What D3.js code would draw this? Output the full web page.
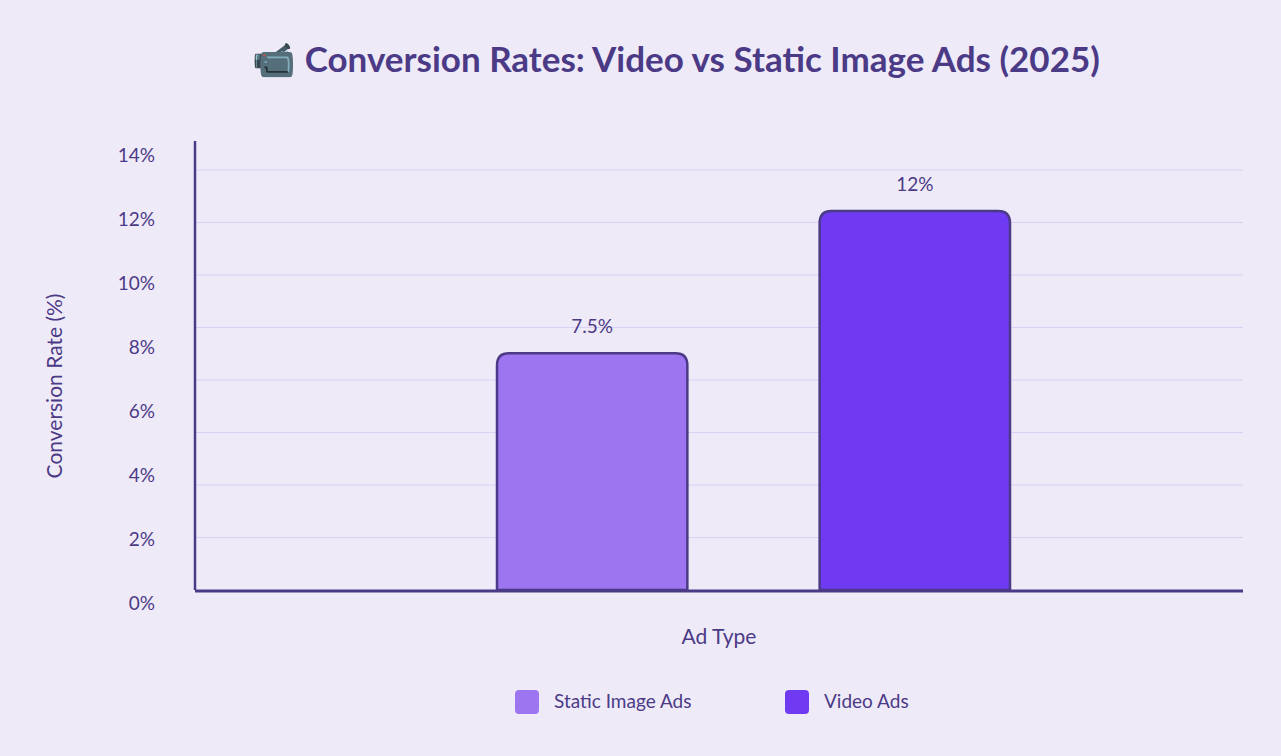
<!DOCTYPE html><html><head><meta charset="utf-8">
<script src="https://cdn.jsdelivr.net/npm/d3@7"></script>
<style>body{margin:0;background:#efeaf8;font-family:Lato,"Noto Sans",sans-serif}</style></head><body>
<svg id="c" width="1281" height="756"></svg>
<script>
const categories=["Static Image Ads","Video Ads"];
const values=[7.5,12];
const valueLabels=["7.5%","12%"];
const colors=["#9d75f0","#6f3af2"];
const tickLabels=[0,2,4,6,8,10,12,14];
const svg=d3.select("#c");
svg.append("rect").attr("width",1281).attr("height",756).attr("fill","#efeaf8");
const ink="#4b3a86";
svg.append("text").attr("x",676).attr("y",72).attr("text-anchor","middle").attr("font-size",35).attr("font-weight",700).attr("fill",ink).text("📹 Conversion Rates: Video vs Static Image Ads (2025)");
const L=195,R=1243,B=590;
const y=d3.scaleLinear().domain([0,13.3]).range([B,170]);
const yl=d3.scaleLinear().domain([0,14]).range([603,155]);
const x=d3.scaleBand().domain(["", ...categories,"  "]).range([L,R]).paddingInner(0.286).paddingOuter(0.0);
const grid=d3.range(1,9).map(i=>y.invert(B-i*52.5));
svg.selectAll(".g").data(grid).enter().append("line").attr("x1",L).attr("x2",R).attr("y1",d=>y(d)).attr("y2",d=>y(d)).attr("stroke","#d9d0f5").attr("stroke-width",1);
svg.selectAll(".t").data(tickLabels).enter().append("text").attr("x",155).attr("y",d=>yl(d)+7).attr("text-anchor","end").attr("font-size",19).attr("fill",ink).text(d=>d+"%");
const bx=d3.scaleBand().domain(categories).range([497,1010]).paddingInner(0.41);
const r=12;
categories.forEach((c,i)=>{
 const x0=bx(c),w=bx.bandwidth(),yt=y(values[i]);
 svg.append("path").attr("d",`M${x0},${B}V${yt+r}Q${x0},${yt} ${x0+r},${yt}H${x0+w-r}Q${x0+w},${yt} ${x0+w},${yt+r}V${B}Z`).attr("fill",colors[i]).attr("stroke",ink).attr("stroke-width",2.5);
 svg.append("text").attr("x",x0+w/2).attr("y",yt-20).attr("text-anchor","middle").attr("font-size",19).attr("fill",ink).text(valueLabels[i]);
});
svg.append("line").attr("x1",L).attr("x2",L).attr("y1",141).attr("y2",B).attr("stroke",ink).attr("stroke-width",2.5);
svg.append("line").attr("x1",L).attr("x2",R).attr("y1",B+1).attr("y2",B+1).attr("stroke",ink).attr("stroke-width",3);
svg.append("text").attr("x",719).attr("y",644).attr("text-anchor","middle").attr("font-size",21).attr("fill",ink).text("Ad Type");
svg.append("text").attr("transform","translate(62,386) rotate(-90)").attr("text-anchor","middle").attr("font-size",21).attr("fill",ink).text("Conversion Rate (%)");
const lx=[515,785];
categories.forEach((c,i)=>{
 svg.append("rect").attr("x",lx[i]).attr("y",690).attr("width",24).attr("height",24).attr("rx",4).attr("fill",colors[i]);
 svg.append("text").attr("x",lx[i]+39).attr("y",708).attr("font-size",19).attr("fill",ink).text(c);
});
</script></body></html>
